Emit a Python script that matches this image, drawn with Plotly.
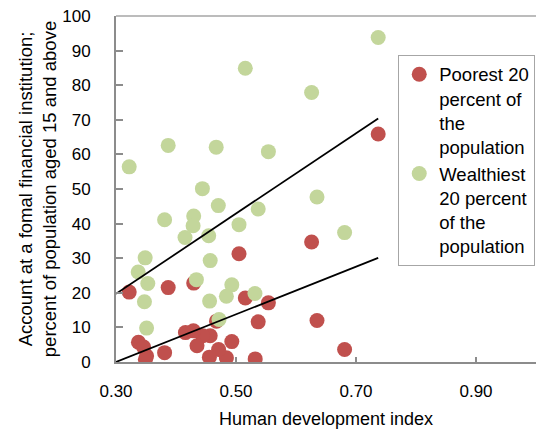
import plotly.graph_objects as go

# Human development index vs. share of adults with an account, by income group
hdi_poorest = [0.737, 0.626, 0.635, 0.681, 0.5155, 0.554, 0.537, 0.532, 0.505, 0.493,
               0.484, 0.471, 0.4675, 0.4556, 0.457, 0.4445, 0.435, 0.4295, 0.429, 0.4157,
               0.387, 0.381, 0.3374, 0.346, 0.351, 0.349, 0.322]
acct_poorest = [65.9, 34.7, 12.0, 3.6, 18.5, 17.1, 11.6, 0.9, 31.3, 5.9,
                1.2, 3.6, 11.8, 1.4, 7.6, 7.6, 4.7, 22.8, 9.0, 8.5,
                21.5, 2.7, 5.7, 4.3, 1.7, 0.8, 20.2]

hdi_wealthiest = [0.737, 0.626, 0.635, 0.681, 0.5155, 0.554, 0.537, 0.5316, 0.505, 0.493,
                  0.484, 0.4705, 0.467, 0.4717, 0.457, 0.456, 0.4545, 0.444, 0.434, 0.4295,
                  0.4285, 0.415, 0.387, 0.381, 0.3486, 0.337, 0.353, 0.3474, 0.351, 0.322]
acct_wealthiest = [93.8, 77.9, 47.7, 37.4, 84.9, 60.8, 44.2, 19.8, 39.7, 22.3,
                   19.0, 45.2, 62.1, 12.3, 29.3, 17.6, 36.5, 50.1, 23.8, 42.2,
                   39.4, 36.0, 62.6, 41.1, 30.1, 26.0, 22.7, 17.4, 9.8, 56.4]

# Linear trend lines (endpoints)
trend_hdi = [0.30, 0.737]
trend_poorest = [0.0, 30.1]
trend_wealthiest = [19.7, 70.4]

x_ticks = [0.30, 0.50, 0.70, 0.90]
x_tick_text = ["0.30", "0.50", "0.70", "0.90"]
y_ticks = list(range(0, 101, 10))

RED = "#C0504D"
GREEN = "#C3D69B"
AXIS_GRAY = "#8C8C8C"
FONT = "Liberation Sans, Arial, sans-serif"

fig = go.Figure()
fig.add_trace(go.Scatter(
    x=hdi_poorest, y=acct_poorest, mode="markers",
    name="Poorest 20<br>percent of<br>the<br>population",
    marker=dict(color=RED, size=15, line=dict(width=0)),
))
fig.add_trace(go.Scatter(
    x=hdi_wealthiest, y=acct_wealthiest, mode="markers",
    name="Wealthiest<br>20 percent<br>of the<br>population",
    marker=dict(color=GREEN, size=15, line=dict(width=0)),
))
fig.add_trace(go.Scatter(
    x=trend_hdi, y=trend_poorest, mode="lines", showlegend=False,
    line=dict(color="black", width=1.75), hoverinfo="skip",
))
fig.add_trace(go.Scatter(
    x=trend_hdi, y=trend_wealthiest, mode="lines", showlegend=False,
    line=dict(color="black", width=1.75), hoverinfo="skip",
))

fig.update_layout(
    width=536, height=432,
    margin=dict(l=116, r=0, t=16, b=70),
    paper_bgcolor="white", plot_bgcolor="white",
    font=dict(family=FONT, size=17, color="black"),
    showlegend=True,
    legend=dict(
        x=0.672, y=0.888, xanchor="left", yanchor="top",
        bordercolor="#A6A6A6", borderwidth=1, bgcolor="white",
        font=dict(family=FONT, size=18.5, color="black"),
        valign="top", tracegroupgap=1,
    ),
    xaxis=dict(
        range=[0.30, 1.0], tickvals=x_ticks, ticktext=x_tick_text,
        showgrid=False, zeroline=False,
        showline=True, linecolor=AXIS_GRAY, linewidth=2,
        ticks="inside", ticklen=5, tickcolor=AXIS_GRAY, tickwidth=1.5,
        ticklabelstandoff=13,
        title=dict(text="Human development index", font=dict(size=18), standoff=12),
    ),
    yaxis=dict(
        range=[0, 100], tickvals=y_ticks,
        showgrid=False, zeroline=False,
        showline=True, linecolor=AXIS_GRAY, linewidth=2,
        ticks="inside", ticklen=7, tickcolor=AXIS_GRAY, tickwidth=1.5,
        ticklabelstandoff=20,
        title=dict(text="Account at a fomal financial institution;<br>percent of population aged 15 and above",
                   font=dict(size=18.5), standoff=1),
    ),
    shapes=[dict(type="line", xref="paper", yref="paper", x0=0, x1=1, y0=1, y1=1,
                 line=dict(color="#A6A6A6", width=1.5))],
)

fig.write_html("out.html")
